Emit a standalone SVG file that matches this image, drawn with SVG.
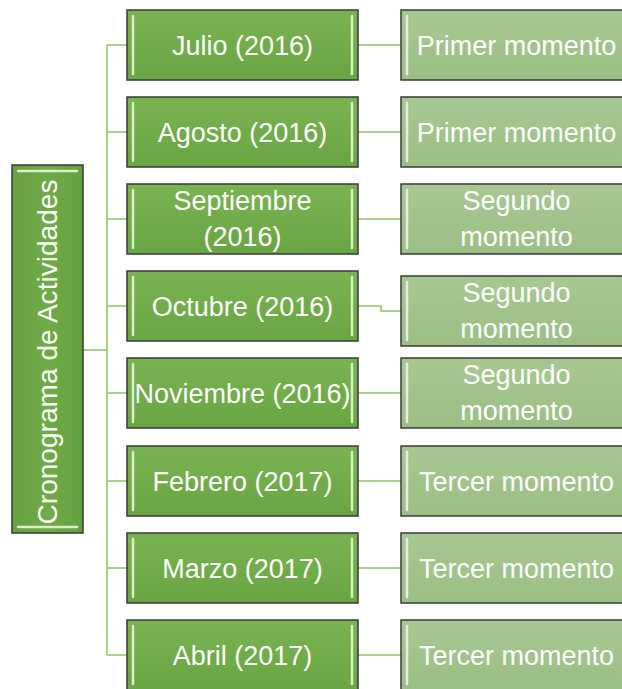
<svg xmlns="http://www.w3.org/2000/svg" width="622" height="689" viewBox="0 0 622 689">
<defs>
<linearGradient id="gMid" x1="0" y1="0" x2="0" y2="1"><stop offset="0" stop-color="#79b352"/><stop offset="1" stop-color="#6aa543"/></linearGradient>
<linearGradient id="gRight" x1="0" y1="0" x2="0" y2="1"><stop offset="0" stop-color="#a8c893"/><stop offset="1" stop-color="#9bbf84"/></linearGradient>
<linearGradient id="gRoot" x1="0" y1="0" x2="1" y2="0"><stop offset="0" stop-color="#66a03f"/><stop offset="0.5" stop-color="#6fab47"/><stop offset="1" stop-color="#64a03e"/></linearGradient>
<style>
.mid{fill:url(#gMid);stroke:#3a3a3a;stroke-width:1.5}
.rt{fill:url(#gRight);stroke:#3a3a3a;stroke-width:1.5}
.root{fill:url(#gRoot);stroke:#3a3a3a;stroke-width:1.5}
.hl{stroke:#d9efc8;stroke-width:2.5;stroke-linecap:round;fill:none}
.hl2{stroke:#e3f0d8;stroke-width:2.5;stroke-linecap:round;fill:none}
.t{font-family:"Liberation Sans",Arial,sans-serif;font-size:27px;fill:#ffffff;text-anchor:middle}
.c{stroke:#a9d18e;stroke-width:2;fill:none}
</style>
</defs>
<rect width="622" height="689" fill="#ffffff"/>
<g id="connectors">
<path class="c" d="M83 350H107M107 45V655M107 45H127M107 132H127M107 219H127M107 306H127M107 393H127M107 481H127M107 568H127M107 655H127"/>
<path class="c" d="M358 45H401M358 132H401M358 219H401M358 306H381V311H401M358 393H401M358 481H401M358 568H401M358 655H401"/>
</g>
<g id="root">
<rect class="root" x="12" y="165" width="71" height="368"/>
<path class="hl" d="M18 171H77M18 527H77"/>
<text class="t" transform="translate(57,352) rotate(-90)" style="font-size:28px" textLength="345" lengthAdjust="spacingAndGlyphs" x="0" y="0">Cronograma de Actividades</text>
</g>
<g id="m1"><rect class="mid" x="127" y="10" width="231" height="70"/><path class="hl" d="M133 16V74M352 16V74"/><text class="t" x="242.5" y="55">Julio (2016)</text></g>
<g id="m2"><rect class="mid" x="127" y="97" width="231" height="70"/><path class="hl" d="M133 103V161M352 103V161"/><text class="t" x="242.5" y="142">Agosto (2016)</text></g>
<g id="m3"><rect class="mid" x="127" y="184" width="231" height="70"/><path class="hl" d="M133 190V248M352 190V248"/><text class="t" x="242.5" y="210">Septiembre</text><text class="t" x="242.5" y="246">(2016)</text></g>
<g id="m4"><rect class="mid" x="127" y="271" width="231" height="70"/><path class="hl" d="M133 277V335M352 277V335"/><text class="t" x="242.5" y="316">Octubre (2016)</text></g>
<g id="m5"><rect class="mid" x="127" y="358" width="231" height="70"/><path class="hl" d="M133 364V422M352 364V422"/><text class="t" x="242.5" y="403">Noviembre (2016)</text></g>
<g id="m6"><rect class="mid" x="127" y="446" width="231" height="70"/><path class="hl" d="M133 452V510M352 452V510"/><text class="t" x="242.5" y="491">Febrero (2017)</text></g>
<g id="m7"><rect class="mid" x="127" y="533" width="231" height="70"/><path class="hl" d="M133 539V597M352 539V597"/><text class="t" x="242.5" y="578">Marzo (2017)</text></g>
<g id="m8"><rect class="mid" x="127" y="620" width="231" height="70"/><path class="hl" d="M133 626V684M352 626V684"/><text class="t" x="242.5" y="665">Abril (2017)</text></g>
<g id="r1"><rect class="rt" x="401" y="10" width="231" height="70"/><path class="hl2" d="M407 16V74"/><text class="t" x="516.5" y="55">Primer momento</text></g>
<g id="r2"><rect class="rt" x="401" y="97" width="231" height="70"/><path class="hl2" d="M407 103V161"/><text class="t" x="516.5" y="142">Primer momento</text></g>
<g id="r3"><rect class="rt" x="401" y="184" width="231" height="70"/><path class="hl2" d="M407 190V248"/><text class="t" x="516.5" y="210">Segundo</text><text class="t" x="516.5" y="246">momento</text></g>
<g id="r4"><rect class="rt" x="401" y="276" width="231" height="70"/><path class="hl2" d="M407 282V340"/><text class="t" x="516.5" y="302">Segundo</text><text class="t" x="516.5" y="338">momento</text></g>
<g id="r5"><rect class="rt" x="401" y="358" width="231" height="70"/><path class="hl2" d="M407 364V422"/><text class="t" x="516.5" y="384">Segundo</text><text class="t" x="516.5" y="420">momento</text></g>
<g id="r6"><rect class="rt" x="401" y="446" width="231" height="70"/><path class="hl2" d="M407 452V510"/><text class="t" x="516.5" y="491">Tercer momento</text></g>
<g id="r7"><rect class="rt" x="401" y="533" width="231" height="70"/><path class="hl2" d="M407 539V597"/><text class="t" x="516.5" y="578">Tercer momento</text></g>
<g id="r8"><rect class="rt" x="401" y="620" width="231" height="70"/><path class="hl2" d="M407 626V684"/><text class="t" x="516.5" y="665">Tercer momento</text></g>
</svg>
